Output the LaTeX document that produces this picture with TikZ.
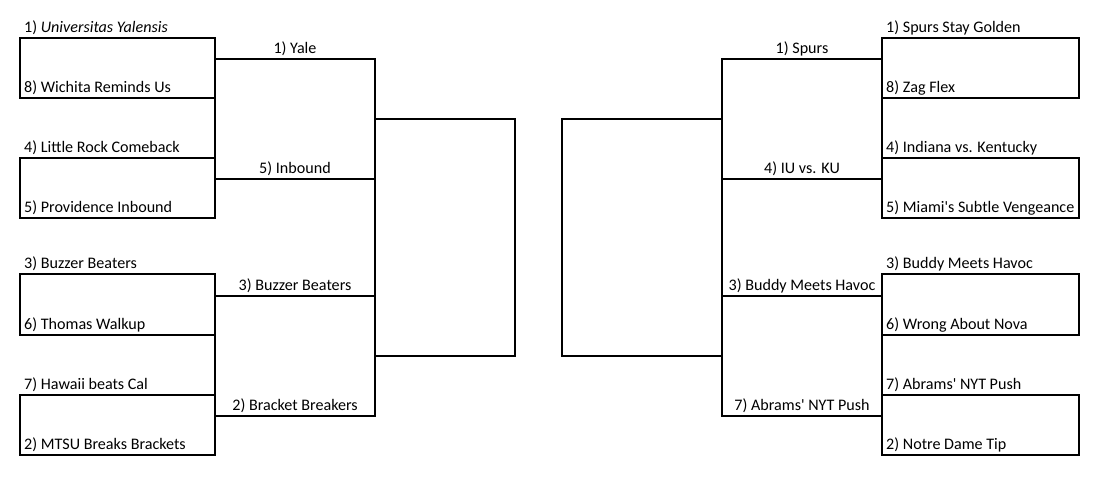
\documentclass[tikz,border=0pt]{standalone}
\usepackage{fontspec}
\setmainfont{Carlito}
\usepackage{tikz}
\usetikzlibrary{positioning, calc}
\tikzset{
  bracket/.style={line width=2.2pt, line cap=rect},
  teambox/.style={rectangle, draw, line width=2.2pt, inner sep=0pt,
    outer sep=0pt, minimum width=195pt, minimum height=60pt},
  finalbox/.style={teambox, minimum width=140pt, minimum height=237pt},
  team/.style={anchor=base west, inner sep=0pt, xshift=4pt, yshift=5.6pt},
  pick/.style={anchor=base, inner sep=0pt, yshift=5.6pt},
}

\begin{document}
\begin{tikzpicture}[x=1pt, y=-1pt, font=\fontsize{16.1}{18}\selectfont]

  \fill[white] (0,0) rectangle (1100,480);

  %% Left half: first round
  \node[teambox] (l18) at (117.5,68) {};
  \node[teambox] (l45) at (117.5,188) {};
  \node[teambox, minimum height=61pt] (l36) at (117.5,304.5) {};
  \node[teambox] (l72) at (117.5,425) {};
  \draw[bracket] (l18.north east) -- (l45.south east);
  \draw[bracket] (l36.north east) -- (l72.south east);

  \node[team] (lt1) at (l18.north west) {1) \textit{Universitas Yalensis}};
  \node[team] (lt8) at (l18.south west) {8) Wichita Reminds Us};
  \node[team] (lt4) at (l45.north west) {4) Little Rock Comeback};
  \node[team] (lt5) at (l45.south west) {5) Providence Inbound};
  \node[team] (lt3) at (l36.north west) {3) Buzzer Beaters};
  \node[team] (lt6) at (l36.south west) {6) Thomas Walkup};
  \node[team] (lt7) at (l72.north west) {7) Hawaii beats Cal};
  \node[team] (lt2) at (l72.south west) {2) MTSU Breaks Brackets};

  %% Left half: second round
  \coordinate (lw1) at (375,59);
  \coordinate (lw2) at (375,179);
  \coordinate (lw3) at (375,296);
  \coordinate (lw4) at (375,416);
  \draw[bracket] (l18.east |- lw1) -- node[pick] (lp1) {1) Yale} (lw1);
  \draw[bracket] (l45.east |- lw2) -- node[pick] (lp5) {5) Inbound} (lw2);
  \draw[bracket] (l36.east |- lw3) -- node[pick] (lp3) {3) Buzzer Beaters} (lw3);
  \draw[bracket] (l72.east |- lw4) -- node[pick] (lp2) {2) Bracket Breakers} (lw4);
  \draw[bracket] (lw1) -- (lw4);

  %% Semifinals
  \node[finalbox] (lsemi) at (445,237.5) {};
  \node[finalbox, minimum width=160pt] (rsemi) at (642,237.5) {};

  %% Right half: first round
  \node[teambox, minimum width=197pt] (r18) at (980.5,68) {};
  \node[teambox, minimum width=197pt] (r45) at (980.5,188) {};
  \node[teambox, minimum width=197pt, minimum height=61pt] (r36) at (980.5,304.5) {};
  \node[teambox, minimum width=197pt] (r72) at (980.5,425) {};
  \draw[bracket] (r18.north west) -- (r45.south west);
  \draw[bracket] (r36.north west) -- (r72.south west);

  \node[team] (rt1) at (r18.north west) {1) Spurs Stay Golden};
  \node[team] (rt8) at (r18.south west) {8) Zag Flex};
  \node[team] (rt4) at (r45.north west) {4) Indiana vs. Kentucky};
  \node[team] (rt5) at (r45.south west) {5) Miami\textquotesingle s Subtle Vengeance};
  \node[team] (rt3) at (r36.north west) {3) Buddy Meets Havoc};
  \node[team] (rt6) at (r36.south west) {6) Wrong About Nova};
  \node[team] (rt7) at (r72.north west) {7) Abrams\textquotesingle\ NYT Push};
  \node[team] (rt2) at (r72.south west) {2) Notre Dame Tip};

  %% Right half: second round
  \coordinate (rw1) at (722,59);
  \coordinate (rw2) at (722,179);
  \coordinate (rw3) at (722,296);
  \coordinate (rw4) at (722,416);
  \draw[bracket] (rw1) -- node[pick] (rp1) {1) Spurs} (r18.west |- rw1);
  \draw[bracket] (rw2) -- node[pick] (rp4) {4) IU vs. KU} (r45.west |- rw2);
  \draw[bracket] (rw3) -- node[pick] (rp3) {3) Buddy Meets Havoc} (r36.west |- rw3);
  \draw[bracket] (rw4) -- node[pick] (rp7) {7) Abrams\textquotesingle\ NYT Push} (r72.west |- rw4);
  \draw[bracket] (rw1) -- (rw4);

\end{tikzpicture}
\end{document}
